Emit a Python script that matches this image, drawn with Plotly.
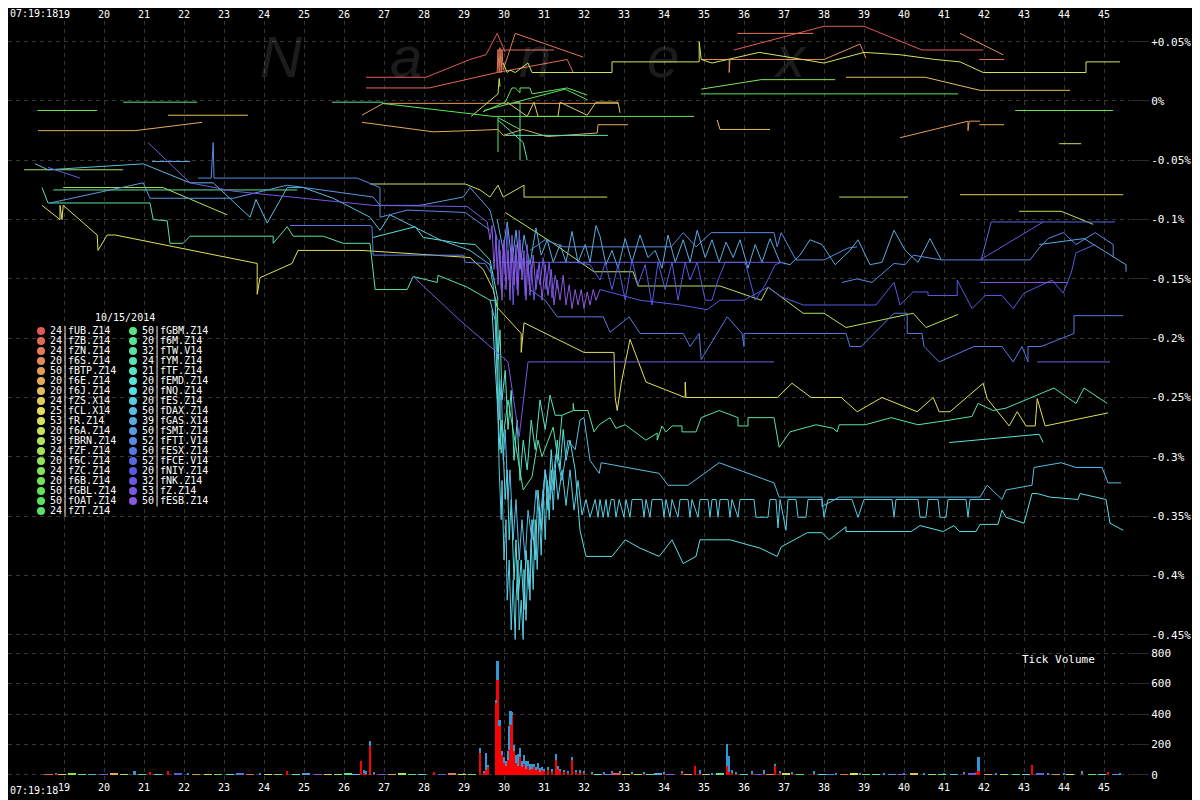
import colorsys
import plotly.graph_objects as go

# ---------------- legend data ----------------
legend_title = "10/15/2014"
legend_counts = [24, 24, 24, 20, 50, 20, 20, 24, 25, 53, 20, 39, 24, 20, 24, 20, 50, 50, 24,
                 50, 20, 32, 24, 21, 20, 20, 20, 50, 39, 50, 52, 50, 52, 20, 32, 53, 50]
legend_names = ["fUB.Z14", "fZB.Z14", "fZN.Z14", "f6S.Z14", "fBTP.Z14", "f6E.Z14", "f6J.Z14",
                "fZS.X14", "fCL.X14", "fR.Z14", "f6A.Z14", "fBRN.Z14", "fZF.Z14", "f6C.Z14",
                "fZC.Z14", "f6B.Z14", "fGBL.Z14", "fOAT.Z14", "fZT.Z14",
                "fGBM.Z14", "f6M.Z14", "fTW.V14", "fYM.Z14", "fTF.Z14", "fEMD.Z14", "fNQ.Z14",
                "fES.Z14", "fDAX.Z14", "fGAS.X14", "fSMI.Z14", "fFTI.V14", "fESX.Z14",
                "fFCE.V14", "fNIY.Z14", "fNK.Z14", "fZ.Z14", "fESB.Z14"]

# ---------------- axis ticks ----------------
sec_ticks = [19, 20, 21, 22, 23, 24, 25, 26, 27, 28, 29, 30, 31, 32, 33, 34, 35, 36, 37, 38,
             39, 40, 41, 42, 43, 44, 45]
pct_ticks = [0.05, 0.0, -0.05, -0.1, -0.15, -0.2, -0.25, -0.3, -0.35, -0.4, -0.45]
pct_labels = ["+0.05%", "0%", "-0.05%", "-0.1%", "-0.15%", "-0.2%", "-0.25%", "-0.3%",
              "-0.35%", "-0.4%", "-0.45%"]
vol_ticks = [0, 200, 400, 600, 800]

# ---------------- price series (seconds after 07:19:00, % change) ----------------
fUB_a = [(26.55, 0.020), (28.05, 0.020), (29.15, 0.035), (29.55, 0.039), (29.83, 0.057), (30.03, 0.041)]
fUB_b = [(35.75, 0.043), (38.0, 0.063), (39.0, 0.063), (40.45, 0.043), (41.98, 0.043)]
fZB_a = [(26.55, 0.011), (28.13, 0.011), (29.83, 0.024), (31.58, 0.035), (31.73, 0.024)]
fZB_b = [(29.83, 0.043), (31.25, 0.043)]
fZN_a = [(29.83, 0.024), (29.85, 0.043), (29.88, 0.024), (29.9, 0.045), (29.93, 0.024), (29.95, 0.043),
         (29.98, 0.026), (30.28, 0.057), (31.98, 0.037)]
fZN_b = [(35.83, 0.057), (37.73, 0.057)]
fZN_c = [(41.88, 0.035), (42.5, 0.035)]
f6S_a = [(41.4, 0.057), (42.48, 0.039)]
f6S_b = [(34.93, 0.035), (35.63, 0.035), (35.63, 0.024), (35.65, 0.035), (38.0, 0.035), (38.9, 0.048), (39.05, 0.036)]

fBTP_a = [(26.45, -0.012), (26.98, -0.002), (32.85, -0.002)]
fBTP_b = [(39.9, -0.031), (41.55, -0.017), (41.6, -0.017), (41.6, -0.025), (41.63, -0.017), (41.9, -0.017)]
f6E_a = [(18.35, -0.025), (20.78, -0.025), (22.45, -0.018)]
f6E_b = [(26.45, -0.018), (28.23, -0.026), (29.15, -0.025), (29.85, -0.024), (29.98, -0.029), (30.48, -0.024),
         (31.08, -0.030), (32.33, -0.027), (32.35, -0.020), (33.1, -0.020)]
f6E_c = [(41.88, -0.020), (42.5, -0.020)]
f6J_a = [(21.6, -0.012), (23.6, -0.012)]
f6J_b = [(38.55, 0.020), (40.53, 0.020), (41.4, 0.013), (41.9, 0.009), (44.15, 0.009)]
f6J_c = [(35.33, -0.016), (35.4, -0.024), (36.65, -0.024)]
fZS_a = [(30.08, -0.001), (30.58, -0.013), (30.75, -0.001), (30.85, -0.013), (31.35, -0.013), (31.4, -0.001),
         (32.08, -0.012), (32.3, -0.001), (32.85, -0.001), (32.9, -0.010)]
fZS_b = [(41.4, -0.079), (45.48, -0.079)]

fCL = [(18.45, -0.088), (18.9, -0.100), (18.9, -0.088), (18.95, -0.100), (18.98, -0.088), (19.83, -0.113),
       (19.85, -0.126), (20.08, -0.113), (20.28, -0.113), (23.83, -0.137), (23.83, -0.163), (23.9, -0.149),
       (24.7, -0.137), (24.85, -0.126), (26.45, -0.126), (29.15, -0.132), (29.48, -0.142), (29.73, -0.159),
       (29.83, -0.174), (30.43, -0.196), (30.43, -0.212), (30.5, -0.187), (32.0, -0.212), (32.75, -0.212),
       (32.78, -0.250), (32.83, -0.261), (32.93, -0.238), (33.15, -0.201), (33.55, -0.237), (34.53, -0.250),
       (34.53, -0.237), (34.55, -0.250), (36.83, -0.250), (37.2, -0.238), (37.68, -0.250), (38.43, -0.250),
       (38.83, -0.262), (39.45, -0.250), (40.33, -0.262), (40.73, -0.250), (40.88, -0.262), (41.15, -0.262),
       (41.98, -0.238), (42.08, -0.251), (42.63, -0.274), (42.83, -0.262), (43.05, -0.274), (43.28, -0.274),
       (43.33, -0.251), (43.53, -0.274), (45.1, -0.263)]
fR = [(29.98, 0.032), (30.08, 0.024), (30.15, 0.026), (30.28, 0.024), (30.6, 0.032), (30.7, 0.024),
      (32.7, 0.024), (32.7, 0.033), (34.88, 0.033), (34.88, 0.050), (34.93, 0.035), (35.2, 0.032),
      (36.38, 0.041), (38.0, 0.032), (39.0, 0.041), (39.9, 0.039), (40.78, 0.035), (41.4, 0.033),
      (41.98, 0.024), (44.55, 0.024), (44.55, 0.033), (45.4, 0.033)]
f6A_a = [(29.18, -0.013), (29.85, 0.006), (29.88, 0.019), (29.9, 0.012)]
f6A_b = [(43.88, -0.036), (44.43, -0.036)]
f6A_c = [(26.65, -0.070), (29.03, -0.070), (29.4, -0.075), (29.65, -0.081), (29.85, -0.071), (29.98, -0.081),
         (30.5, -0.071), (30.5, -0.081), (32.58, -0.081)]
fBRN_a = [(18.98, -0.073), (21.48, -0.073), (23.08, -0.096)]
fBRN_b = [(38.38, -0.081), (40.1, -0.081)]
fBRN_c = [(42.88, -0.093), (43.93, -0.093), (44.73, -0.104)]
fBRN_d = [(30.03, -0.094), (31.23, -0.120), (32.25, -0.144), (33.23, -0.144), (33.35, -0.156), (35.4, -0.156),
          (36.43, -0.168), (36.6, -0.157), (37.48, -0.179), (38.0, -0.179), (38.55, -0.191), (40.23, -0.179),
          (40.55, -0.191), (41.35, -0.180)]
fZF = [(18.0, -0.058), (20.48, -0.058)]

f6C = [(34.93, 0.010), (36.43, 0.018), (38.28, 0.018)]
fGBL_a = [(18.33, -0.008), (19.83, -0.008)]
fGBL_b = [(42.78, -0.008), (45.23, -0.008)]
fZC_a = [(26.95, -0.002), (29.73, -0.013), (34.75, -0.013)]
fZC_b = [(29.48, -0.009), (30.03, -0.001), (30.2, 0.011), (30.28, 0.011), (30.4, 0.007), (30.4, 0.011),
         (30.65, 0.011), (30.7, 0.006), (31.58, 0.011), (32.08, 0.005)]
fOAT_a = [(34.93, 0.006), (41.35, 0.006)]
fOAT_b = [(29.5, -0.008), (31.53, 0.010), (32.08, 0.001)]
fZT = [(29.85, -0.043), (29.85, -0.014), (30.4, -0.024)]
fGBM_a = [(20.48, -0.001), (22.33, -0.001)]
f6M_a = [(25.7, -0.001), (26.98, -0.001)]
f6M_b = [(30.28, -0.001), (30.4, -0.001), (30.4, -0.050)]
fTW_a = [(29.85, -0.016), (30.48, -0.035), (30.58, -0.050)]
f6M_c = [(18.73, -0.075), (24.83, -0.075)]
fTW = [(18.45, -0.073), (18.6, -0.086), (21.15, -0.086), (21.23, -0.100), (21.58, -0.101), (21.65, -0.120),
       (21.98, -0.120), (22.15, -0.114), (24.23, -0.114), (24.23, -0.120), (24.58, -0.106), (24.73, -0.114),
       (25.48, -0.114), (25.98, -0.120), (26.65, -0.120), (26.78, -0.159), (27.58, -0.159), (27.73, -0.148),
       (28.33, -0.153), (28.35, -0.147), (29.08, -0.157), (29.65, -0.168), (29.83, -0.168), (29.85, -0.196),
       (29.93, -0.297), (30.1, -0.252), (30.3, -0.294), (30.48, -0.328), (30.7, -0.317), (30.85, -0.286),
       (30.95, -0.300), (31.08, -0.288), (31.23, -0.275), (31.35, -0.303), (31.45, -0.265), (31.73, -0.261),
       (31.73, -0.255), (31.75, -0.261), (32.1, -0.261), (32.25, -0.279), (32.38, -0.273), (32.65, -0.267),
       (32.8, -0.276), (33.03, -0.273), (33.55, -0.286), (33.83, -0.280), (33.83, -0.286), (33.95, -0.274),
       (34.05, -0.279), (34.2, -0.274), (34.45, -0.274), (34.45, -0.279), (34.8, -0.279), (34.93, -0.267),
       (35.38, -0.261), (35.85, -0.267), (35.85, -0.274), (36.1, -0.274), (36.1, -0.267), (36.75, -0.267),
       (36.88, -0.292), (37.15, -0.279), (37.8, -0.273), (38.23, -0.276), (38.33, -0.279), (38.38, -0.273),
       (39.03, -0.273), (39.68, -0.267), (40.35, -0.273), (41.15, -0.269), (41.53, -0.267), (41.7, -0.266),
       (41.85, -0.255), (42.23, -0.261), (42.55, -0.259), (43.2, -0.250), (43.75, -0.242), (44.3, -0.255),
       (44.5, -0.242), (45.08, -0.255)]
fYM_a = [(30.03, -0.029), (32.6, -0.029)]
fTF = [(29.78, -0.168), (29.85, -0.218), (29.9, -0.193), (29.95, -0.252), (30.03, -0.227), (30.1, -0.277),
       (30.18, -0.244), (30.25, -0.303), (30.33, -0.269), (30.4, -0.320), (30.48, -0.286), (30.58, -0.311),
       (30.68, -0.269), (30.78, -0.294), (30.9, -0.252), (31.03, -0.277), (31.15, -0.248), (31.28, -0.265),
       (31.45, -0.265)]
fEMD_a = [(26.73, -0.115), (27.23, -0.111), (27.78, -0.106), (27.98, -0.115), (28.9, -0.120), (29.28, -0.121),
          (29.65, -0.134), (29.85, -0.168)]
fEMD_b = [(41.13, -0.288), (43.38, -0.281), (43.48, -0.288)]
fNQ = [(29.7, -0.176), (29.83, -0.252), (29.9, -0.294), (29.95, -0.269), (30.03, -0.336), (30.08, -0.311),
       (30.13, -0.370), (30.18, -0.336), (30.25, -0.404), (30.3, -0.370), (30.35, -0.421), (30.43, -0.387),
       (30.5, -0.429), (30.55, -0.379), (30.63, -0.412), (30.7, -0.353), (30.78, -0.387), (30.85, -0.328),
       (30.93, -0.362), (31.03, -0.311), (31.1, -0.345), (31.18, -0.294), (31.25, -0.328), (31.33, -0.286),
       (31.4, -0.311), (31.48, -0.277), (31.55, -0.303), (31.65, -0.286), (31.78, -0.311), (31.9, -0.362),
       (32.05, -0.384), (32.7, -0.384), (33.03, -0.370), (33.4, -0.377), (33.88, -0.384), (34.2, -0.370),
       (34.48, -0.390), (34.8, -0.384), (34.9, -0.370), (35.65, -0.370), (36.4, -0.377), (36.83, -0.384),
       (36.93, -0.376), (37.58, -0.364), (37.95, -0.364), (38.13, -0.370), (38.55, -0.359), (38.55, -0.363),
       (40.18, -0.363), (40.4, -0.358), (40.98, -0.363), (41.25, -0.358), (41.38, -0.363), (41.8, -0.363),
       (41.9, -0.357), (42.35, -0.357), (42.45, -0.345), (42.55, -0.351), (43.0, -0.356), (43.2, -0.331),
       (43.33, -0.331), (43.65, -0.334), (44.35, -0.336), (44.4, -0.331), (45.05, -0.336), (45.15, -0.356),
       (45.48, -0.362)]
fES = [(29.65, -0.168), (29.78, -0.185), (29.83, -0.235), (29.88, -0.311), (29.93, -0.353), (29.95, -0.320),
       (30.0, -0.387), (30.05, -0.353), (30.08, -0.421), (30.13, -0.387), (30.18, -0.446), (30.23, -0.404),
       (30.28, -0.454), (30.3, -0.421), (30.35, -0.387), (30.38, -0.446), (30.43, -0.421), (30.48, -0.454),
       (30.5, -0.395), (30.55, -0.438), (30.6, -0.387), (30.65, -0.421), (30.68, -0.370), (30.73, -0.412),
       (30.78, -0.353), (30.83, -0.395), (30.88, -0.345), (30.93, -0.383), (30.98, -0.328), (31.03, -0.370),
       (31.08, -0.320), (31.13, -0.353), (31.18, -0.311), (31.23, -0.345), (31.28, -0.311), (31.35, -0.336),
       (31.45, -0.311), (31.55, -0.341), (31.65, -0.311), (31.75, -0.345), (31.85, -0.320), (31.95, -0.349),
       (32.05, -0.336), (32.15, -0.351), (32.28, -0.336), (32.35, -0.351), (32.4, -0.336), (32.48, -0.351),
       (32.55, -0.336), (32.6, -0.351), (32.68, -0.336), (32.75, -0.336), (32.8, -0.351), (32.88, -0.336),
       (33.0, -0.351), (33.05, -0.336), (33.15, -0.351), (33.2, -0.336), (33.45, -0.336), (33.5, -0.351),
       (33.55, -0.336), (33.65, -0.351), (33.7, -0.336), (33.95, -0.336), (34.0, -0.351), (34.05, -0.336),
       (34.15, -0.351), (34.2, -0.336), (34.35, -0.351), (34.4, -0.336), (34.6, -0.336), (34.65, -0.351),
       (34.7, -0.336), (34.85, -0.351), (34.9, -0.336), (35.1, -0.336), (35.15, -0.351), (35.2, -0.336),
       (35.3, -0.336), (35.35, -0.351), (35.4, -0.336), (35.6, -0.336), (35.65, -0.351), (35.7, -0.336),
       (35.85, -0.351), (35.9, -0.336), (36.25, -0.336), (36.3, -0.351), (36.6, -0.351), (36.65, -0.336),
       (36.8, -0.336), (36.85, -0.360), (36.9, -0.336), (37.05, -0.362), (37.1, -0.336), (37.3, -0.336),
       (37.35, -0.351), (37.55, -0.351), (37.6, -0.336), (37.95, -0.336), (38.0, -0.351), (38.1, -0.336),
       (38.7, -0.336), (38.85, -0.351), (39.0, -0.336), (39.7, -0.336), (39.75, -0.351), (39.8, -0.336),
       (40.35, -0.336), (40.4, -0.351), (40.55, -0.351), (40.6, -0.336), (40.85, -0.336), (40.9, -0.351),
       (41.05, -0.351), (41.1, -0.336), (41.55, -0.336), (41.6, -0.351), (41.65, -0.336), (42.15, -0.336)]
fDAX = [(18.28, -0.053), (18.6, -0.058), (20.98, -0.053), (22.15, -0.069), (22.73, -0.069), (23.65, -0.098),
        (23.8, -0.083), (24.08, -0.103), (24.58, -0.073), (24.98, -0.073), (25.73, -0.082), (26.65, -0.098),
        (26.9, -0.109), (27.15, -0.096), (28.4, -0.117), (29.15, -0.126), (29.65, -0.138), (29.78, -0.168),
        (29.83, -0.218), (29.88, -0.269), (29.93, -0.235), (29.98, -0.303), (30.03, -0.277), (30.1, -0.336),
        (30.15, -0.311), (30.23, -0.370), (30.3, -0.336), (30.38, -0.387), (30.45, -0.353), (30.53, -0.387),
        (30.6, -0.345), (30.7, -0.370), (30.8, -0.328), (30.9, -0.353), (31.03, -0.311), (31.15, -0.336),
        (31.3, -0.298), (31.45, -0.320), (31.6, -0.286), (31.78, -0.294), (31.9, -0.269), (32.0, -0.267),
        (32.15, -0.303), (32.38, -0.314), (32.43, -0.305), (33.88, -0.314), (34.1, -0.324), (34.6, -0.324),
        (35.38, -0.305), (36.75, -0.322), (36.88, -0.334), (37.95, -0.334), (37.95, -0.342), (38.38, -0.334),
        (41.9, -0.334), (42.08, -0.324), (42.45, -0.336), (42.55, -0.328), (43.2, -0.324), (43.25, -0.309),
        (43.93, -0.305), (44.3, -0.309), (44.95, -0.309), (45.1, -0.322), (45.43, -0.322)]
fGAS_a = [(21.2, -0.051), (22.15, -0.051)]
fGAS_b = [(43.38, -0.121), (44.5, -0.116), (45.55, -0.138), (45.55, -0.144)]
fGAS_c = [(29.83, -0.100), (29.98, -0.126), (30.08, -0.102), (30.2, -0.136), (30.3, -0.109), (30.4, -0.142),
          (30.5, -0.113), (30.65, -0.138), (30.8, -0.107), (30.93, -0.130), (31.08, -0.117), (31.23, -0.136),
          (31.4, -0.121), (31.55, -0.136), (31.7, -0.110), (31.85, -0.136), (32.03, -0.121), (32.15, -0.136),
          (32.3, -0.105), (32.4, -0.114), (32.55, -0.138), (32.7, -0.126), (32.85, -0.141), (33.03, -0.116),
          (33.2, -0.136), (33.4, -0.113), (33.6, -0.132), (33.78, -0.126), (33.95, -0.141), (34.1, -0.113),
          (34.28, -0.136), (34.48, -0.117), (34.65, -0.136), (34.83, -0.109), (35.03, -0.132), (35.2, -0.117),
          (35.38, -0.136), (35.55, -0.119), (35.73, -0.132), (35.9, -0.117), (36.1, -0.141), (36.28, -0.121),
          (36.45, -0.136), (36.65, -0.116), (36.9, -0.136), (37.15, -0.138), (37.4, -0.130), (37.65, -0.117),
          (37.95, -0.121), (38.28, -0.138), (38.65, -0.126), (38.85, -0.117), (39.15, -0.138), (39.45, -0.136),
          (39.75, -0.109), (40.03, -0.126), (40.35, -0.136), (40.65, -0.116), (40.93, -0.134)]
fSMI_a = [(18.65, -0.086), (20.98, -0.069), (21.15, -0.082), (23.23, -0.082), (24.58, -0.071), (26.73, -0.081),
          (26.9, -0.088), (27.9, -0.088), (28.98, -0.081), (29.15, -0.073), (29.65, -0.092), (29.83, -0.117)]
fFTI_a = [(22.35, -0.065), (22.68, -0.065), (22.73, -0.035), (22.75, -0.065), (26.33, -0.065), (26.9, -0.073),
          (26.9, -0.098), (27.58, -0.092), (29.03, -0.094), (29.65, -0.109)]
fFTI_b = [(30.65, -0.126), (31.03, -0.117), (31.5, -0.123), (34.18, -0.123), (34.48, -0.111), (34.8, -0.123),
          (35.18, -0.111), (36.75, -0.111), (36.83, -0.123), (36.93, -0.111), (37.3, -0.134), (38.0, -0.134),
          (38.6, -0.124), (38.83, -0.123)]
fFTI_c = [(38.45, -0.153), (38.83, -0.150), (39.2, -0.153), (39.75, -0.137), (40.03, -0.138), (40.23, -0.130),
          (40.93, -0.134), (43.15, -0.134), (43.38, -0.124), (43.6, -0.116), (43.98, -0.111), (44.3, -0.121),
          (44.78, -0.111), (45.23, -0.121), (45.23, -0.132)]
fESX_a = [(24.65, -0.105), (26.65, -0.105), (26.7, -0.106), (26.73, -0.130), (28.98, -0.130), (29.03, -0.136),
          (29.53, -0.137), (29.78, -0.151)]
fESX_b = [(30.65, -0.159), (31.03, -0.168), (31.33, -0.182), (31.5, -0.182), (32.48, -0.182), (32.65, -0.195),
          (33.13, -0.182), (33.4, -0.196), (34.48, -0.196), (34.65, -0.207), (34.88, -0.196), (34.93, -0.218),
          (35.58, -0.182), (35.95, -0.196), (36.0, -0.207), (36.0, -0.196), (38.55, -0.196), (38.65, -0.207),
          (38.93, -0.207), (39.75, -0.179), (40.08, -0.179), (40.08, -0.196), (40.45, -0.196), (40.5, -0.207),
          (40.88, -0.220), (41.75, -0.207), (42.45, -0.207), (42.73, -0.220), (42.95, -0.207), (43.1, -0.220),
          (43.1, -0.207), (43.43, -0.207), (44.25, -0.196), (44.25, -0.181), (45.48, -0.181)]
fFCE = [(41.93, -0.134), (42.18, -0.102), (45.28, -0.102)]
fNIY_a = [(32.4, -0.159), (33.4, -0.168), (34.4, -0.172), (35.08, -0.176), (35.4, -0.168), (36.0, -0.168),
          (36.6, -0.157), (36.93, -0.165), (37.48, -0.172), (39.3, -0.172), (39.75, -0.153), (39.9, -0.172),
          (40.23, -0.161), (40.6, -0.161), (40.6, -0.164), (41.33, -0.164), (41.33, -0.151), (41.7, -0.175),
          (42.03, -0.164), (42.45, -0.164), (42.73, -0.175), (43.0, -0.162), (43.7, -0.151), (43.98, -0.162),
          (44.18, -0.145), (44.3, -0.128), (44.78, -0.121)]
fNIY_b = [(31.4, -0.136), (31.78, -0.136), (32.15, -0.138), (32.4, -0.151), (32.53, -0.136), (32.7, -0.159),
          (32.85, -0.138), (33.03, -0.168), (33.2, -0.134), (33.35, -0.155), (33.53, -0.138), (33.7, -0.172),
          (33.85, -0.136), (34.03, -0.159), (34.2, -0.136), (34.35, -0.168), (34.53, -0.136), (34.65, -0.151),
          (34.83, -0.136), (35.03, -0.168), (35.2, -0.168), (35.35, -0.151), (35.53, -0.136), (35.78, -0.136),
          (36.03, -0.136), (36.28, -0.168), (36.53, -0.155), (36.78, -0.138), (36.95, -0.136)]
fNK_a = [(18.6, -0.056), (19.4, -0.065)]
fNK_b = [(29.88, -0.136), (36.98, -0.136)]
fNK_c = [(41.9, -0.134), (43.48, -0.102)]
fNK_d = [(29.78, -0.109), (29.83, -0.142), (29.88, -0.117), (29.93, -0.159), (29.98, -0.121), (30.03, -0.147),
         (30.08, -0.105), (30.13, -0.151), (30.18, -0.126), (30.23, -0.172), (30.28, -0.130), (30.33, -0.159),
         (30.38, -0.109), (30.43, -0.142), (30.48, -0.132), (30.53, -0.164), (30.58, -0.121), (30.63, -0.155),
         (30.68, -0.138), (30.75, -0.168), (30.83, -0.142), (30.9, -0.155), (30.98, -0.132), (31.05, -0.159),
         (31.13, -0.136), (31.2, -0.166), (31.28, -0.147), (31.35, -0.159)]
fZ_a = [(21.1, -0.035), (22.15, -0.069), (23.23, -0.076), (26.73, -0.088), (29.08, -0.089), (29.58, -0.102)]
fZ_b = [(27.73, -0.148), (28.9, -0.185), (30.1, -0.220), (30.38, -0.283), (30.6, -0.220), (36.75, -0.220)]
fZ_c = [(43.33, -0.220), (45.15, -0.220)]
fESB_a = [(29.58, -0.102), (29.65, -0.117), (29.7, -0.105), (29.75, -0.142), (29.8, -0.113), (29.85, -0.155),
          (29.9, -0.126), (29.95, -0.168), (30.0, -0.117), (30.05, -0.159), (30.1, -0.126), (30.15, -0.168),
          (30.2, -0.113), (30.25, -0.155), (30.3, -0.121), (30.35, -0.164), (30.4, -0.117), (30.45, -0.151),
          (30.5, -0.126), (30.55, -0.168), (30.6, -0.134), (30.65, -0.164), (30.73, -0.130), (30.8, -0.159),
          (30.88, -0.136), (30.95, -0.168), (31.03, -0.138), (31.1, -0.164), (31.18, -0.142), (31.25, -0.172),
          (31.33, -0.151), (31.4, -0.168), (31.48, -0.147), (31.55, -0.172), (31.63, -0.155), (31.7, -0.175),
          (31.78, -0.159), (31.85, -0.172), (31.93, -0.159), (32.0, -0.175), (32.08, -0.161), (32.15, -0.172),
          (32.23, -0.159), (32.3, -0.168), (32.4, -0.159)]
fESB_b = [(41.9, -0.153), (44.08, -0.153)]

# (series, legend index giving its colour)
price_series = [
    (fUB_a, 0), (fUB_b, 0), (fZB_a, 1), (fZB_b, 1), (fZN_a, 2), (fZN_b, 2), (fZN_c, 2), (f6S_a, 3), (f6S_b, 3),
    (fBTP_a, 4), (fBTP_b, 4), (f6E_a, 5), (f6E_b, 5), (f6E_c, 5), (f6J_a, 6), (f6J_b, 6), (f6J_c, 6),
    (fZS_a, 7), (fZS_b, 7), (fCL, 8), (fR, 9), (f6A_a, 10), (f6A_b, 10), (f6A_c, 10),
    (fBRN_a, 11), (fBRN_b, 11), (fBRN_c, 11), (fBRN_d, 11), (fZF, 12), (f6C, 14),
    (fGBL_a, 15), (fGBL_b, 15), (fZC_a, 16), (fZC_b, 16), (fOAT_a, 17), (fOAT_b, 17), (fZT, 18),
    (fGBM_a, 19), (f6M_a, 20), (f6M_b, 20), (f6M_c, 20), (fTW_a, 21), (fTW, 21), (fYM_a, 22),
    (fTF, 23), (fEMD_a, 24), (fEMD_b, 24), (fNQ, 25), (fES, 26), (fDAX, 27),
    (fGAS_a, 28), (fGAS_b, 28), (fGAS_c, 28), (fSMI_a, 29), (fFTI_a, 30), (fFTI_b, 30), (fFTI_c, 30),
    (fESX_a, 31), (fESX_b, 31), (fFCE, 32), (fNIY_a, 33), (fNIY_b, 33),
    (fNK_a, 34), (fNK_b, 34), (fNK_c, 34), (fNK_d, 34), (fZ_a, 35), (fZ_b, 35), (fZ_c, 35),
    (fESB_a, 36), (fESB_b, 36),
]

# ---------------- tick volume ----------------
vol_t = [18.8, 20.77, 21.15, 21.6, 22.1, 23.9, 24.58, 26.43, 26.5, 26.55, 26.65, 26.75, 28.26, 29.0, 29.4,
         29.5, 29.55, 29.6, 29.8, 29.84, 29.89, 29.95, 30.0, 30.05, 30.1, 30.13, 30.17, 30.2, 30.25, 30.3,
         30.35, 30.4, 30.45, 30.5, 30.55, 30.6, 30.65, 30.7, 30.75, 30.8, 30.85, 30.9, 30.95, 31.0, 31.1,
         31.2, 31.3, 31.35, 31.4, 31.5, 31.6, 31.7, 31.8, 31.9, 32.0, 32.2, 32.5, 32.7, 32.9, 33.2, 33.5,
         34.0, 34.45, 34.78, 34.9, 35.2, 35.58, 35.63, 35.7, 35.8, 36.2, 36.5, 36.78, 36.9, 37.2, 37.75,
         38.3, 38.9, 39.5, 40.0, 40.5, 41.0, 41.5, 41.8, 41.87, 42.3, 43.2, 43.6, 44.0, 44.46, 45.1, 45.4]
vol_red = [8, 0, 22, 25, 6, 4, 25, 94, 10, 8, 188, 10, 22, 4, 145, 10, 30, 57, 472, 625, 320, 130, 80, 60,
           100, 167, 330, 395, 157, 80, 60, 120, 50, 70, 40, 60, 30, 40, 50, 30, 40, 20, 35, 25, 30, 20,
           100, 40, 25, 20, 15, 100, 20, 10, 15, 10, 8, 10, 15, 8, 10, 10, 15, 61, 5, 5, 60, 20, 10, 10, 5,
           5, 60, 15, 10, 5, 5, 5, 5, 6, 4, 5, 8, 20, 24, 5, 64, 5, 5, 8, 22, 5]
vol_blue = [2, 24, 0, 0, 2, 8, 0, 0, 25, 15, 32, 10, 0, 6, 32, 15, 115, 10, 20, 120, 40, 30, 40, 30, 60,
            153, 88, 20, 40, 50, 80, 60, 40, 60, 50, 30, 40, 30, 25, 20, 40, 25, 20, 15, 25, 20, 35, 20,
            15, 10, 10, 20, 15, 20, 10, 8, 10, 15, 10, 10, 5, 5, 8, 0, 30, 5, 145, 102, 25, 10, 18, 30, 12,
            5, 5, 18, 5, 10, 5, 4, 5, 4, 14, 0, 92, 5, 0, 5, 5, 16, 0, 5]
minor_t = [18.62, 18.95, 19.2, 19.45, 19.7, 19.98, 20.25, 20.5, 20.95, 21.35, 21.85, 22.3, 22.6, 22.85,
           23.15, 23.4, 23.65, 24.1, 24.35, 24.8, 25.05, 25.35, 25.6, 25.85, 26.1, 26.3, 26.95, 27.2, 27.45,
           27.7, 27.95, 28.45, 28.7, 28.95, 29.2, 32.35, 32.6, 32.8, 33.05, 33.35, 33.65, 33.85, 34.15, 34.6,
           35.05, 35.4, 36.0, 36.35, 36.65, 37.05, 37.4, 37.95, 38.15, 38.5, 38.75, 39.05, 39.3, 39.7, 39.95,
           40.25, 40.7, 40.95, 41.25, 41.7, 42.1, 42.5, 42.8, 43.05, 43.4, 43.8, 44.15, 44.7, 44.95, 45.3]
minor_v = [6, 5, 7, 4, 6, 5, 8, 4, 6, 5, 7, 4, 6, 5, 5, 7, 4, 6, 5, 5, 7, 4, 6, 5, 8, 4, 6, 5, 7, 5, 6, 4,
           7, 5, 6, 6, 5, 7, 4, 6, 5, 7, 6, 4, 5, 7, 6, 4, 5, 7, 6, 5, 4, 6, 7, 5, 4, 6, 5, 7, 4, 6, 5, 7,
           4, 5, 6, 5, 7, 4, 6, 5, 6, 5]


# ---------------- styling helpers ----------------
def palette_color(i, n=37):
    h = (i * 262.0 / (n - 1)) / 360.0
    r, g, b = colorsys.hls_to_rgb(h, 0.62, 0.72)
    return "#%02x%02x%02x" % (int(r * 255), int(g * 255), int(b * 255))


PAL = [palette_color(i) for i in range(len(legend_names))]

# the page has an 8px body margin: figure occupies page pixels 8..1200, 8..800
OFF = 8.0
FIG_W, FIG_H = 1192, 792
PLOT_L, PLOT_R = 8.0, 1130.0      # page pixels
PLOT_T, PLOT_B = 21.0, 780.0      # page pixels


def px_x(x):
    return (x - PLOT_L) / (PLOT_R - PLOT_L)


def px_y(y):
    return (PLOT_B - y) / (PLOT_B - PLOT_T)


MONO = "DejaVu Sans Mono"

fig = go.Figure()

for pts, ci in price_series:
    fig.add_trace(go.Scatter(
        x=[p[0] for p in pts], y=[p[1] for p in pts], mode="lines",
        line=dict(color=PAL[ci], width=1), xaxis="x", yaxis="y",
        showlegend=False, hoverinfo="skip"))

fig.add_trace(go.Bar(x=vol_t, y=vol_red, width=0.045, marker=dict(color="#ff0000", line=dict(width=0)),
                     xaxis="x2", yaxis="y2", showlegend=False, hoverinfo="skip"))
fig.add_trace(go.Bar(x=vol_t, y=vol_blue, width=0.045, marker=dict(color="#2f97d6", line=dict(width=0)),
                     xaxis="x2", yaxis="y2", showlegend=False, hoverinfo="skip"))
fig.add_trace(go.Bar(x=minor_t, y=minor_v, width=0.22,
                     marker=dict(color=[PAL[(i * 7) % len(PAL)] for i in range(len(minor_t))],
                                 line=dict(width=0)),
                     xaxis="x2", yaxis="y2", showlegend=False, hoverinfo="skip"))

GRID = "#363636"
DASH = "4px,4px"
p_dom_bottom = px_y(645)
v_dom_top = px_y(648)
x_range = [17.6, 45.65]

fig.update_layout(
    width=FIG_W, height=FIG_H,
    margin=dict(l=int(PLOT_L - OFF), r=int(FIG_W + OFF - PLOT_R), t=int(PLOT_T - OFF),
                b=int(FIG_H + OFF - PLOT_B)),
    paper_bgcolor="black", plot_bgcolor="black",
    barmode="stack", bargap=0, showlegend=False,
    font=dict(family=MONO, size=11, color="white"),
    xaxis=dict(domain=[0, 1], range=x_range, side="top", anchor="y",
               tickvals=sec_ticks, ticktext=[str(s) for s in sec_ticks],
               showgrid=True, gridcolor=GRID, griddash=DASH, gridwidth=1,
               zeroline=False, showline=False, ticks="", tickfont=dict(family=MONO, size=10, color="white")),
    xaxis2=dict(domain=[0, 1], range=x_range, side="bottom", anchor="y2", matches="x",
                tickvals=sec_ticks, ticktext=[str(s) for s in sec_ticks],
                showgrid=True, gridcolor=GRID, griddash=DASH, gridwidth=1,
                zeroline=False, showline=False, ticks="", tickfont=dict(family=MONO, size=10, color="white")),
    yaxis=dict(domain=[p_dom_bottom, 1], range=[-0.4587, 0.06745], side="right", anchor="x",
               tickvals=pct_ticks, ticktext=pct_labels,
               showgrid=True, gridcolor=GRID, griddash=DASH, gridwidth=1,
               zeroline=False, showline=False, ticks="outside", ticklen=18, tickcolor="#2a2a2a",
               tickfont=dict(family=MONO, size=11, color="white")),
    yaxis2=dict(domain=[0, v_dom_top], range=[-33, 833], side="right", anchor="x2",
                tickvals=vol_ticks, ticktext=[str(v) for v in vol_ticks],
                showgrid=True, gridcolor=GRID, griddash=DASH, gridwidth=1,
                zeroline=False, showline=False, ticks="outside", ticklen=18, tickcolor="#2a2a2a",
                tickfont=dict(family=MONO, size=11, color="white")),
)

annotations = []
shapes = []

# watermark
for letter, cx in zip(["N", "a", "n", "e", "x"], [281, 406, 535, 663, 790]):
    annotations.append(dict(xref="paper", yref="paper", x=px_x(cx), y=px_y(57), text="<i>%s</i>" % letter,
                            showarrow=False, xanchor="center", yanchor="middle",
                            font=dict(family="Liberation Sans", size=58, color="rgba(255,255,255,0.11)")))

# start-time labels
for yy in [14, 790]:
    annotations.append(dict(xref="paper", yref="paper", x=0, y=px_y(yy), text="07:19:18", showarrow=False,
                            xanchor="left", yanchor="middle", font=dict(family=MONO, size=10, color="white")))

annotations.append(dict(xref="paper", yref="paper", x=px_x(1058), y=px_y(659), text="Tick Volume",
                        showarrow=False, xanchor="center", yanchor="middle",
                        font=dict(family=MONO, size=11, color="white")))

# legend
annotations.append(dict(xref="paper", yref="paper", x=px_x(125), y=px_y(318), text=legend_title,
                        showarrow=False, xanchor="center", yanchor="middle",
                        font=dict(family=MONO, size=10, color="white")))
for i, (cnt, name) in enumerate(zip(legend_counts, legend_names)):
    if i < 19:
        dot_x, txt_x, row_y = 41, 48, 331 + 10 * i
    else:
        dot_x, txt_x, row_y = 133, 140, 331 + 10 * (i - 19)
    shapes.append(dict(type="circle", xref="paper", yref="paper",
                       x0=px_x(dot_x - 4), x1=px_x(dot_x + 4), y0=px_y(row_y + 4), y1=px_y(row_y - 4),
                       fillcolor=PAL[i], line=dict(width=0)))
    annotations.append(dict(xref="paper", yref="paper", x=px_x(txt_x), y=px_y(row_y),
                            text="%d|%s" % (cnt, name), showarrow=False, xanchor="left", yanchor="middle",
                            font=dict(family=MONO, size=10, color="white")))

fig.update_layout(annotations=annotations, shapes=shapes)

fig.write_html("out.html")
